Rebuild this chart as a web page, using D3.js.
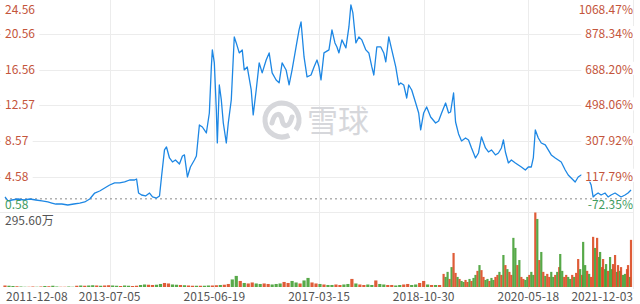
<!DOCTYPE html>
<html lang="zh">
<head>
<meta charset="UTF-8">
<title>股价走势</title>
<style>
  body { margin: 0; background: #fff; }
  svg { display: block; font-family: "Noto Sans CJK SC", "Open Sans", sans-serif; }
</style>
</head>
<body>
<svg class="chart"></svg>
<script src="https://cdnjs.cloudflare.com/ajax/libs/d3/7.8.5/d3.min.js"></script>
<script>
// session index (roughly 4 trading days per step) and close price
const priceIdx = [0,3,7,13,19,25,31,37,43,47,51,57,63,69,75,80,85,90,95,100,105,110,115,120,125,130,132,134,137,141,145,148,152,155,157,160,162,165,168,171,175,178,180,183,186,190,192,195,198,202,205,207,208,210,212,213,215,217,219,222,224,227,230,232,235,238,240,243,247,249,252,255,258,262,265,268,272,275,278,282,285,288,292,295,297,300,303,307,310,313,315,317,320,325,328,331,333,335,338,342,345,347,349,352,355,358,362,365,368,370,373,377,380,382,385,388,392,395,397,400,403,405,408,412,415,417,420,423,427,432,435,438,442,445,447,450,452,455,458,462,465,468,472,475,478,482,485,488,492,495,498,500,502,505,508,512,515,518,522,525,528,530,532,535,538,542,545,548,552,555,558,562,565,568,572,575,578,582,585,588,590,592,595,598,602,605,608,612,615,618,622,625,628];
const priceVal = [2.31,1.86,1.97,2.08,1.97,2.08,1.97,1.86,1.75,1.63,1.52,1.52,1.41,1.52,1.63,1.75,2.08,2.75,2.98,3.31,3.65,3.88,3.88,3.99,4.21,4.21,4.32,2.75,2.53,2.42,2.75,2.31,2.19,2.42,4.55,7.58,7.91,6.68,6.23,6.45,6.01,6.90,7.02,4.55,5.67,6.45,6.90,10.38,10.15,9.48,11.72,16.88,18.79,17.33,12.06,8.36,14.86,13.18,10.60,8.36,10.60,13.18,20.24,19.57,18.45,18.79,16.54,16.88,14.30,11.50,14.30,17.33,16.21,17.66,18.45,16.21,15.42,15.09,17.33,16.54,14.86,16.54,19.12,21.03,21.92,18.00,15.76,15.98,16.88,17.66,16.88,15.42,18.45,18.79,21.03,19.57,19.12,18.45,19.91,19.01,21.36,23.83,22.93,19.57,20.24,19.91,18.79,18.45,16.88,15.98,19.12,19.12,18.45,17.44,20.24,18.79,16.88,14.86,15.09,14.86,13.40,14.86,14.30,12.84,11.72,9.82,11.72,12.40,11.27,10.60,10.83,11.72,12.84,11.72,11.83,13.96,10.71,9.37,8.58,8.92,8.70,7.80,6.68,7.24,9.03,7.80,7.35,7.58,7.02,7.24,7.80,8.70,7.35,6.12,6.45,6.12,5.89,5.67,5.33,5.67,5.67,6.68,9.82,8.92,8.36,8.14,7.58,7.02,6.68,6.45,6.23,5.33,4.77,4.44,3.99,4.55,4.77,4.77,4.44,3.65,2.31,2.53,2.75,2.53,2.75,2.31,2.53,2.75,2.53,2.31,2.53,2.75,3.09];

// volume in 万: every 4 steps up to 2018, denser after that
const volIdx = d3.range(0, 440, 4).concat([
  440,442,444,446,448,450,452,454,456,458,460,462,464,466,468,470,472,474,476,478,
  480,482,484,486,488,490,492,494,496,498,500,502,504,506,508,510,512,514,516,518,
  520,522,524,526,528,530,532,534,536,538,540,542,544,546,548,550,552,554,556,557,
  559,561,563,565,567,569,571,573,575,577,579,580,582,584,586,588,590,592,594,596,
  597,599,600,602,603,605,607,609,610,612,614,615,617,618,620,622,624,625,627,628]);
const volume = [6,5,4,3,2,1,1,2,1,2,4,3,5,2,1,1,2,1,5,6,5,6,7,6,5,6,
  7,6,5,4,6,5,4,5,8,10,9,8,9,12,16,14,10,9,8,7,6,5,5,
  5,5,6,6,7,8,9,12,30,44,24,
  16,14,18,14,12,14,12,10,12,14,20,16,24,18,14,26,36,18,14,12,
  10,8,8,10,8,10,12,32,14,10,8,10,8,26,12,10,8,8,6,8,10,12,8,10,16,24,10,8,8,8,
  52,40,60,32,79,135,56,40,32,24,20,28,20,32,24,36,48,64,87,67,
  40,28,32,24,36,28,40,48,60,48,127,87,71,60,48,195,155,87,107,40,
  32,28,40,48,60,48,295.6,270,107,139,60,44,52,40,60,40,48,60,79,131,
  64,40,48,40,32,48,40,56,111,71,48,179,87,64,52,40,199,155,195,119,
  139,79,111,71,91,64,119,71,91,127,60,87,64,79,48,52,71,87,40,187];
// u = up day (red), d = down day (green)
const volDir = 'uddudduudududduuddududduduudd' + 'udduudduudduudduduududduuduudd' +
  'uduudduuddduuddudduududduuddud' + 'uuddudduudduudduududu' +
  'udduduudud' + 'duududdudu' + 'uddudduudu' + 'duduuddudu' + 'udduddudud' +
  'uduuddudud' + 'duudduduud' + 'udduduudud' + 'duuddudduu' + 'dududduudu';

const dateTicks = [0, 105, 210, 315, 420, 525, 630];
const dateLabels = ['2011-12-08', '2013-07-05', '2015-06-19', '2017-03-15', '2018-10-30', '2020-05-18', '2021-12-03'];
const priceTicks = [0.58, 4.58, 8.57, 12.57, 16.56, 20.56, 24.56];
const pctLabels = ['-72.35%', '117.79%', '307.92%', '498.06%', '688.20%', '878.34%', '1068.47%'];
const basePrice = 2.098;

const W = 640, H = 304;
const red = '#c4553c', green = '#3f9c5f', gray = '#555';

const svg = d3.select('.chart').attr('width', W).attr('height', H);

const x = d3.scaleLinear().domain([0, 630]).range([5, 633]);
const y = d3.scaleLinear().domain([0.58, 24.56]).range([212.4, -1.6]);
const yVol = d3.scaleLinear().domain([0, d3.max(volume)]).range([287, 212.5]);

// grid
const grid = svg.append('g').attr('stroke', '#ececec').attr('stroke-width', 1);
grid.selectAll('.h').data(priceTicks).join('line')
    .attr('x1', 0).attr('x2', 633)
    .attr('y1', d => Math.round(y(d)) + 0.5).attr('y2', d => Math.round(y(d)) + 0.5);
grid.selectAll('.v').data(dateTicks.slice(1)).join('line')
    .attr('x1', d => Math.round(x(d)) + 0.5).attr('x2', d => Math.round(x(d)) + 0.5)
    .attr('y1', 0).attr('y2', 289);

// watermark
const wm = svg.append('g').attr('transform', 'translate(282,120)')
    .attr('fill', 'none').attr('stroke', '#d6d7db').attr('stroke-width', 5).attr('stroke-linecap', 'round');
wm.append('path').attr('d', d3.arc()({innerRadius: 17, outerRadius: 17, startAngle: 2.7, endAngle: 2 * Math.PI + 2.2}));
wm.append('path').attr('d', 'M-10,3 C-7,-9 -1,-7 0,0 C1,7 7,9 10,-3');
svg.append('text').attr('x', 307).attr('y', 132).attr('font-size', 31)
    .attr('fill', '#d6d7db').text('雪球');

// volume bars
svg.append('g').selectAll('rect').data(volume).join('rect')
    .attr('x', (d, i) => x(volIdx[i]) - (i < 110 ? 1.6 : 1.1))
    .attr('width', (d, i) => i < 110 ? 3.2 : 2.2)
    .attr('y', d => yVol(d))
    .attr('height', d => 287 - yVol(d))
    .attr('fill', (d, i) => volDir[i] === 'u' ? '#dc4a22' : '#45a035')
    .attr('opacity', 0.9);

// base price dashed line
svg.append('line')
    .attr('x1', 5).attr('x2', 633)
    .attr('y1', y(basePrice)).attr('y2', y(basePrice))
    .attr('stroke', '#888').attr('stroke-width', 1).attr('stroke-dasharray', '2,3');

// price line
const line = d3.line().x(d => x(d[0])).y(d => y(d[1]));
svg.append('path')
    .datum(d3.zip(priceIdx, priceVal))
    .attr('d', line)
    .attr('fill', 'none')
    .attr('stroke', '#1d87e4')
    .attr('stroke-width', 1.3)
    .attr('stroke-linejoin', 'round');

// axis labels with white backing so the grid stops at them
const labels = svg.append('g').attr('font-size', 12);
const labelY = (d, i) => i === 0 ? 209 : i === priceTicks.length - 1 ? 13.5 : y(d) + 4;

function backed(sel) {
    sel.each(function (d, i) {
        if (i === 0 || i === priceTicks.length - 1) return;
        const b = this.getBBox();
        d3.select(this.parentNode).insert('rect', () => this)
            .attr('x', b.x - 4).attr('y', b.y + 2).attr('width', b.width + 8).attr('height', b.height - 4)
            .attr('fill', '#fff');
    });
}

labels.selectAll('.l').data(priceTicks).join('text')
    .attr('x', 5).attr('y', labelY)
    .attr('fill', (d, i) => i === 0 ? green : red)
    .text(d => d.toFixed(2))
    .call(backed);

labels.selectAll('.r').data(priceTicks).join('text')
    .attr('x', 633).attr('y', labelY)
    .attr('text-anchor', 'end')
    .attr('fill', (d, i) => i === 0 ? green : red)
    .text((d, i) => pctLabels[i])
    .call(backed);

labels.append('text').attr('x', 5).attr('y', 225).attr('fill', gray)
    .text(d3.max(volume).toFixed(2) + '万');

labels.selectAll('.d').data(dateTicks).join('text')
    .attr('x', (d, i) => i === 0 ? 6 : i === dateTicks.length - 1 ? 633 : x(d))
    .attr('y', 301)
    .attr('text-anchor', (d, i) => i === 0 ? 'start' : i === dateTicks.length - 1 ? 'end' : 'middle')
    .attr('fill', gray)
    .text((d, i) => dateLabels[i]);
</script>
</body>
</html>
